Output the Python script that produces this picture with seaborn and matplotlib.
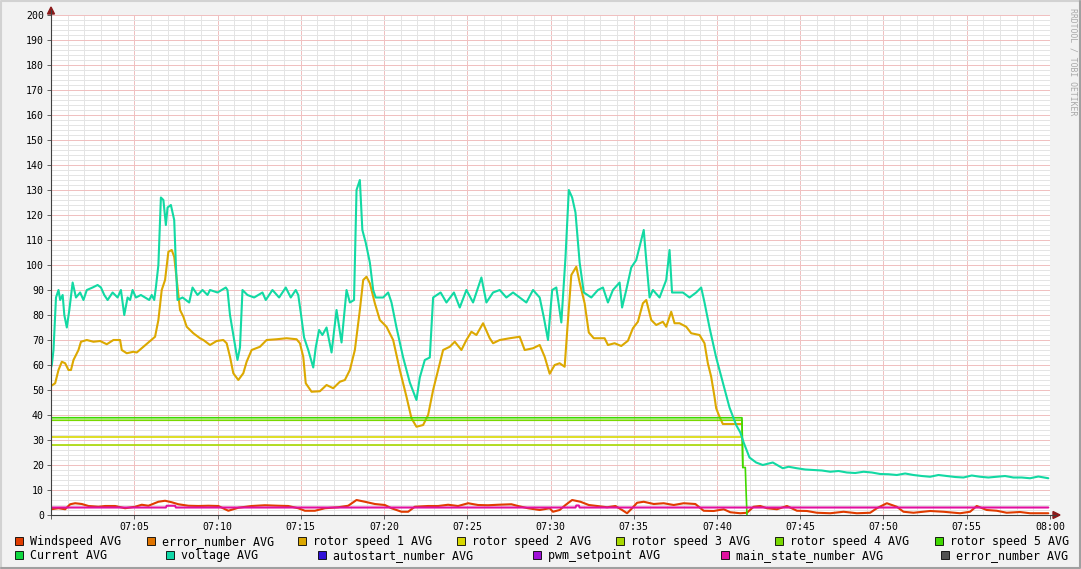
import numpy as np
import pandas as pd
import matplotlib
matplotlib.use('Agg')
import matplotlib.pyplot as plt
import seaborn as sns
from matplotlib.patches import Rectangle, Polygon
from matplotlib.ticker import MultipleLocator, FuncFormatter

# minutes after 07:00
voltage_t = [0.0, 0.05, 0.15, 0.3, 0.45, 0.55, 0.7, 0.8, 0.95, 1.1, 1.3, 1.5, 1.75, 1.95, 2.15,
             2.5, 2.8, 3.0, 3.2, 3.4, 3.7, 4.0, 4.2, 4.4, 4.6, 4.75, 4.9, 5.1, 5.4, 5.9, 6.05,
             6.2, 6.3, 6.45, 6.6, 6.75, 6.9, 7.0, 7.2, 7.4, 7.5, 7.6, 7.9, 8.3, 8.5, 8.8, 9.1,
             9.4, 9.55, 10.0, 10.5, 10.6, 10.75, 11.0, 11.2, 11.35, 11.5, 11.8, 12.2, 12.7,
             12.9, 13.3, 13.7, 14.1, 14.4, 14.7, 14.85, 15.0, 15.2, 15.45, 15.75, 15.9, 16.1,
             16.3, 16.55, 16.85, 17.15, 17.45, 17.75, 17.95, 18.2, 18.35, 18.55, 18.7, 18.9,
             19.15, 19.35, 19.5, 19.95, 20.25, 20.45, 20.75, 21.15, 21.55, 21.95, 22.15, 22.45,
             22.75, 22.95, 23.4, 23.75, 24.2, 24.55, 24.95, 25.35, 25.85, 26.15, 26.55, 26.95,
             27.35, 27.75, 28.15, 28.55, 28.95, 29.35, 29.6, 29.85, 30.1, 30.35, 30.65, 30.9,
             31.1, 31.3, 31.5, 31.75, 32.0, 32.45, 32.85, 33.15, 33.45, 33.75, 34.15, 34.3,
             34.55, 34.85, 35.15, 35.45, 35.6, 35.75, 35.95, 36.15, 36.55, 36.95, 37.15, 37.3,
             37.6, 37.95, 38.35, 38.75, 39.05, 39.25, 39.55, 39.95, 40.35, 40.75, 41.15, 41.4,
             41.6, 41.95, 42.35, 42.75, 43.35, 43.95, 44.3, 44.8, 45.3, 45.8, 46.3, 46.8, 47.3,
             47.8, 48.3, 48.8, 49.3, 49.8, 50.3, 50.8, 51.3, 51.8, 52.3, 52.8, 53.3, 53.8, 54.3,
             54.8, 55.3, 55.8, 56.3, 56.8, 57.3, 57.8, 58.3, 58.8, 59.3, 59.9]
voltage_v = [59, 60, 66, 87, 90, 86, 88, 80, 75, 82, 93, 87, 89, 86, 90,
             91, 92, 91, 88, 86, 89, 87, 90, 80, 87, 86, 90, 87, 88, 86, 88,
             86, 91, 100, 127, 126, 116, 123, 124, 118, 100, 86, 87, 85, 91, 88, 90,
             88, 90, 89, 91, 90, 80, 70, 62, 67, 90, 88, 87, 89,
             86, 90, 87, 91, 87, 90, 88, 81, 71, 66, 59, 67, 74,
             72, 75, 65, 82, 69, 90, 85, 86, 130, 134, 114, 109,
             101, 90, 87, 87, 89, 85, 75, 63, 53, 46, 55, 62,
             63, 87, 89, 85, 89, 83, 90, 85, 95, 85, 89, 90,
             87, 89, 87, 85, 90, 87, 79, 70, 90, 91, 77, 103,
             130, 127, 121, 101, 89, 87, 90, 91, 85, 90, 93, 83,
             90, 99, 102, 110, 114, 102, 87, 90, 87, 94, 106, 89,
             89, 89, 87, 89, 91, 85, 75, 63, 53, 43, 36, 33,
             29, 23, 21, 20, 21, 18.7, 19.3, 18.7, 18.2, 18.0, 17.8, 17.3, 17.6,
             17.0, 16.8, 17.3, 17.0, 16.4, 16.3, 16.0, 16.6, 16.0, 15.6, 15.3, 16.0, 15.6, 15.2,
             15.0, 15.8, 15.3, 15.0, 15.3, 15.6, 15.0, 15.0, 14.7, 15.4, 14.7]

rotor1_t = [0.0, 0.25, 0.45, 0.65, 0.85, 1.05, 1.2, 1.35, 1.65, 1.8, 2.15, 2.55, 2.95, 3.35,
            3.75, 4.15, 4.25, 4.55, 4.95, 5.15, 5.55, 5.95, 6.25, 6.45, 6.65, 6.85, 7.05,
            7.25, 7.4, 7.55, 7.75, 7.95, 8.15, 8.55, 8.95, 9.15, 9.55, 9.95, 10.35, 10.55,
            10.75, 10.95, 11.25, 11.55, 11.75, 12.05, 12.55, 12.95, 13.55, 14.15, 14.75,
            14.95, 15.15, 15.3, 15.65, 16.15, 16.55, 16.95, 17.35, 17.65, 17.95, 18.25,
            18.55, 18.75, 18.95, 19.15, 19.45, 19.75, 20.15, 20.55, 20.95, 21.35, 21.65,
            21.95, 22.35, 22.65, 22.95, 23.25, 23.55, 23.95, 24.25, 24.65, 24.95, 25.25,
            25.55, 25.95, 26.35, 26.55, 26.95, 27.55, 28.15, 28.45, 28.95, 29.35, 29.65,
            29.95, 30.25, 30.55, 30.85, 31.05, 31.25, 31.55, 31.75, 32.05, 32.3, 32.6,
            33.25, 33.45, 33.85, 34.25, 34.65, 34.95, 35.25, 35.55, 35.75, 36.05, 36.35,
            36.75, 36.95, 37.25, 37.45, 37.75, 38.15, 38.45, 38.95, 39.25, 39.45, 39.65,
            39.85, 39.95, 40.15, 40.35, 41.5]
rotor1_v = [51.6, 52.7, 58, 61.3, 60.7, 58, 58, 62, 66, 69.3, 70, 69.3, 69.6, 68.3,
            70, 70, 66, 64.7, 65.3, 65, 67.3, 69.6, 71.3, 78, 90, 94, 105.3,
            106, 103.3, 94, 82, 79.3, 75.3, 72.7, 70.7, 70, 68, 69.6, 70, 68.7,
            63.3, 56.7, 54, 56.7, 61.3, 66, 67.3, 70, 70.3, 70.7, 70.3,
            68.7, 63.3, 52.7, 49.3, 49.5, 52, 50.7, 53.3, 54, 58, 66,
            82, 94, 95.3, 92.7, 84.7, 78, 75.3, 70, 58, 47.3, 38.7,
            35.3, 36, 40, 50, 58, 66, 67.3, 69.3, 66, 70, 73.3,
            72, 76.7, 70.7, 68.7, 70, 70.7, 71.3, 66, 66.7, 68, 63.3,
            56.5, 60, 60.7, 59.3, 78, 96, 99.3, 93, 84.7, 73, 70.7,
            70.7, 68, 68.7, 67.6, 69.7, 74.7, 77.3, 84.7, 86, 78, 76,
            77.3, 75.3, 81.3, 76.7, 76.7, 75.3, 72.7, 72, 68.7, 60.7, 55.3,
            47.3, 42.7, 39.3, 36.4, 36.4]

rotor2_t = [0.0, 41.5]
rotor2_v = [31.2, 31.2]
rotor3_t = [0.0, 41.5]
rotor3_v = [28.1, 28.1]
rotor4_t = [0.0, 41.5, 41.55]
rotor4_v = [37.9, 37.9, 19.0]
rotor5_t = [0.0, 41.5, 41.55, 41.7, 41.75, 41.8]
rotor5_v = [38.9, 38.9, 19.0, 19.0, 9.0, 0.0]

wind_t = [0.0, 0.45, 0.85, 1.15, 1.45, 1.85, 2.25, 2.85, 3.25, 3.85, 4.45, 5.05, 5.45, 5.85,
          6.45, 6.85, 7.25, 7.65, 8.25, 8.85, 9.45, 10.05, 10.65, 11.25, 12.05, 12.85,
          13.65, 14.25, 14.85, 15.25, 15.85, 16.45, 17.25, 17.85, 18.35, 18.85, 19.45,
          20.05, 20.45, 21.05, 21.45, 21.85, 22.65, 23.25, 23.85, 24.45, 25.05, 25.65,
          26.25, 26.85, 27.65, 28.05, 28.65, 29.35, 29.95, 30.15, 30.55, 30.9, 31.3, 31.8,
          32.3, 32.8, 33.4, 33.9, 34.3, 34.6, 34.9, 35.2, 35.6, 36.2, 36.8, 37.4, 38.0,
          38.7, 39.2, 39.8, 40.4, 40.8, 41.4, 41.8, 42.2, 42.6, 43.0, 43.6, 44.2, 44.8,
          45.4, 46.0, 46.8, 47.6, 48.4, 49.2, 49.6, 50.2, 50.8, 51.2, 51.8, 52.8, 53.6,
          54.6, 55.2, 55.6, 56.2, 56.8, 57.4, 58.2, 58.8, 59.9]
wind_v = [2.3, 2.7, 2.3, 4.3, 4.7, 4.4, 3.6, 3.3, 3.6, 3.6, 2.7, 3.3, 4.1, 3.7,
          5.3, 5.7, 5.1, 4.3, 3.7, 3.6, 3.7, 3.6, 1.7, 2.9, 3.6, 3.9,
          3.7, 3.6, 2.7, 1.7, 1.7, 2.7, 3.1, 3.7, 6.0, 5.3, 4.4,
          4.0, 2.7, 1.3, 1.3, 3.3, 3.6, 3.6, 4.1, 3.6, 4.7, 4.0,
          3.9, 4.1, 4.3, 3.6, 2.7, 2.0, 2.7, 1.3, 2.0, 4.0, 6.0, 5.3,
          4.0, 3.6, 3.1, 3.6, 2.0, 0.7, 2.7, 4.9, 5.3, 4.4, 4.7, 4.0, 4.7,
          4.4, 1.7, 1.6, 2.3, 1.1, 0.7, 0.9, 3.3, 3.6, 2.7, 2.3, 3.6, 1.7,
          1.6, 0.9, 0.7, 1.3, 0.7, 0.9, 2.7, 4.7, 3.3, 1.3, 0.9, 1.6, 1.3,
          0.7, 1.3, 3.6, 2.0, 1.7, 0.9, 1.2, 0.7, 0.7]

state_t = [0.0, 6.9, 6.95, 7.45, 7.5, 31.5, 31.55, 31.7, 31.75, 59.9]
state_v = [3.0, 3.0, 3.7, 3.7, 3.0, 3.0, 3.8, 3.8, 3.0, 3.0]

legend_row1 = ['Windspeed AVG', 'error_number AVG', 'rotor speed 1 AVG', 'rotor speed 2 AVG',
               'rotor speed 3 AVG', 'rotor speed 4 AVG', 'rotor speed 5 AVG']
legend_row2 = ['Current AVG', 'voltage AVG', 'autostart_number AVG', 'pwm_setpoint AVG',
               'main_state_number AVG', 'error_number AVG']

colors_row1 = ['#e03c00', '#e07400', '#dca800', '#d8d800', '#a8d800', '#78d800', '#40d800']
colors_row2 = ['#10d840', '#10d8a8', '#3010d8', '#a010d8', '#e010a0', '#505050']
pos_row1 = [15, 147, 298, 457, 616, 775, 935]
pos_row2 = [15, 166, 318, 533, 721, 941]

W, H = 1081, 569
sns.set_theme(style='white')
plt.rcParams['font.family'] = ['DejaVu Sans Mono']

fig = plt.figure(figsize=(W / 100, H / 100), dpi=100, facecolor='#f2f2f2')
ax = fig.add_axes([51 / W, 1 - 515 / H, (1050 - 51) / W, 500 / H])
ax.set_facecolor('white')

# series, drawn in rrdtool order
series = [
    (wind_t, wind_v, colors_row1[0], 1.5),
    (rotor1_t, rotor1_v, colors_row1[2], 1.5),
    (rotor2_t, rotor2_v, colors_row1[3], 1.2),
    (rotor3_t, rotor3_v, colors_row1[4], 1.2),
    (rotor4_t, rotor4_v, colors_row1[5], 1.2),
    (rotor5_t, rotor5_v, colors_row1[6], 1.2),
    (voltage_t, voltage_v, '#12d9a3', 1.5),
    (state_t, state_v, colors_row2[4], 1.5),
]
for t, v, c, lw in series:
    df = pd.DataFrame({'t': t, 'v': v})
    sns.lineplot(data=df, x='t', y='v', ax=ax, color=c, lw=lw,
                 estimator=None, sort=False, zorder=3)

ax.set_xlim(0, 60)
ax.set_ylim(0, 200)
ax.set_xlabel('')
ax.set_ylabel('')
ax.xaxis.set_major_locator(MultipleLocator(5))
ax.xaxis.set_minor_locator(MultipleLocator(1))
ax.yaxis.set_major_locator(MultipleLocator(10))
ax.yaxis.set_minor_locator(MultipleLocator(2))
ax.xaxis.set_major_formatter(FuncFormatter(
    lambda v, p: '' if v < 1 else f'{7 + int(round(v)) // 60:02d}:{int(round(v)) % 60:02d}'))
ax.yaxis.set_major_formatter(FuncFormatter(lambda v, p: f'{int(round(v))}'))
ax.set_axisbelow(True)
# dotted rrdtool grid, rendered as a light solid line of the same average tone
ax.grid(which='minor', color='#e4e4e4', ls='-', lw=0.72)
ax.grid(which='major', color='#f0c0c0', ls='-', lw=0.72)
ax.tick_params(which='major', length=3, width=0.7, color='#606060', labelsize=7.1,
               pad=2, labelcolor='black', direction='out', left=True, bottom=True)
ax.tick_params(which='minor', length=0)
for s in ax.spines.values():
    s.set_visible(False)

# overlay in pixel coords: axes lines, arrows, legend, frame
ov = fig.add_axes([0, 0, 1, 1], zorder=10)
ov.set_xlim(0, W)
ov.set_ylim(H, 0)
ov.axis('off')
ov.patch.set_alpha(0)

ov.plot([51, 51], [515, 10], color='#404040', lw=0.8)
ov.plot([51, 1056], [515, 515], color='#404040', lw=0.8)
ov.add_patch(Polygon([[47.5, 14], [54.5, 14], [51, 7]], closed=True, color='#8b1a1a'))
ov.add_patch(Polygon([[1053, 511.5], [1053, 518.5], [1060, 515]], closed=True, color='#8b1a1a'))

for labels, cols, xs, y in [(legend_row1, colors_row1, pos_row1, 541.5),
                            (legend_row2, colors_row2, pos_row2, 555.5)]:
    for lab, c, x in zip(labels, cols, xs):
        ov.add_patch(Rectangle((x, y - 4.5), 8, 8, facecolor=c, edgecolor='black', lw=0.6))
        ov.text(x + 15, y, lab, fontsize=8.4, va='center', ha='left', color='black')

ov.text(1073, 8, 'RRDTOOL / TOBI OETIKER', rotation=270, fontsize=5.9,
        color='#a8a8a8', ha='center', va='top')

# 3d frame
ov.plot([1, 1, W - 1], [H - 1, 1, 1], color='#d2d2d2', lw=1.5)
ov.plot([1, W - 1, W - 1], [H - 1, H - 1, 1], color='#a0a0a0', lw=1.5)

fig.savefig('out.png', dpi=100, facecolor=fig.get_facecolor())
